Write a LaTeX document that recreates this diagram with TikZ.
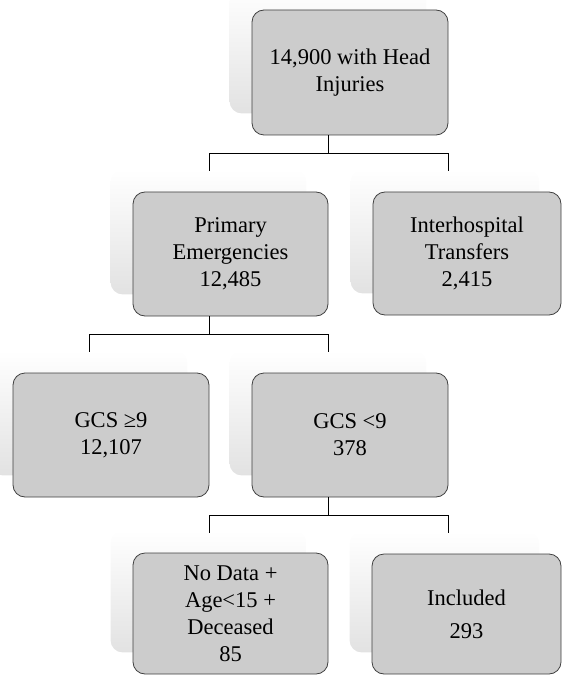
\documentclass[tikz,border=0pt]{standalone}
\usepackage{fontspec}
\setmainfont{Liberation Serif}
\usetikzlibrary{calc}
\definecolor{boxgray}{RGB}{204,204,204}
\definecolor{edgegray}{RGB}{64,64,64}
\definecolor{shadowgray}{RGB}{226,226,226}
\pgfdeclarelayer{bg}
\pgfsetlayers{bg,main}
\tikzset{
  box/.style={draw=edgegray, line width=0.8pt, fill=boxgray, rounded corners=12pt,
    align=center, inner sep=2pt, font=\fontsize{22.5}{27}\selectfont},
  conn/.style={draw=black, line width=0.8pt},
  shadowbox/.style={top color=white, bottom color=shadowgray, rounded corners=12pt, draw=none}
}
\begin{document}
\begin{tikzpicture}[x=1pt,y=-1pt]
\useasboundingbox (0,0) rectangle (562,676);
\clip (0,0) rectangle (562,676);

\node[box, minimum width=196pt, minimum height=125pt] (top) at (350,72.5) {14,900 with Head\\Injuries};
\node[box, minimum width=195pt, minimum height=124pt] (prim) at (230.5,254) {Primary\\Emergencies\\12,485};
\node[box, minimum width=188pt, minimum height=123pt] (inter) at (467,253.5) {Interhospital\\Transfers\\2,415};
\node[box, minimum width=196pt, minimum height=124pt] (gcsa) at (111,435) {GCS ≥9\\12,107};
\node[box, minimum width=196pt, minimum height=124pt] (gcsb) at (350,435) {GCS <9\\378};
\node[box, minimum width=195pt, minimum height=121pt] (nodata) at (230.5,613.5) {No Data +\\Age<15 +\\Deceased\\85};
\node[box, minimum width=189pt, minimum height=120pt] (incl) at (466.5,614) {Included\\[6pt]293};

\begin{pgfonlayer}{bg}
  \foreach \n in {top,prim,inter,gcsa,gcsb,nodata,incl}{
    \shade[shadowbox] ([shift={(-22pt,22pt)}]\n.south west) rectangle ([shift={(-22pt,22pt)}]\n.north east);
  }
\end{pgfonlayer}

% connectors
\draw[conn] ([xshift=-22pt]top.south) -- ++(0pt,-18pt) coordinate (j1);
\draw[conn] ([xshift=-21.5pt,yshift=21pt]prim.north) |- (j1) -| ([xshift=-19pt,yshift=21pt]inter.north);

\draw[conn] ([xshift=-21.5pt]prim.south) -- ++(0pt,-18pt) coordinate (j2);
\draw[conn] ([xshift=-22pt,yshift=21pt]gcsa.north) |- (j2) -| ([xshift=-22pt,yshift=21pt]gcsb.north);

\draw[conn] ([xshift=-22pt]gcsb.south) -- ++(0pt,-18pt) coordinate (j3);
\draw[conn] ([xshift=-21.5pt,yshift=20pt]nodata.north) |- (j3) -| ([xshift=-18.5pt,yshift=21pt]incl.north);
\end{tikzpicture}
\end{document}
